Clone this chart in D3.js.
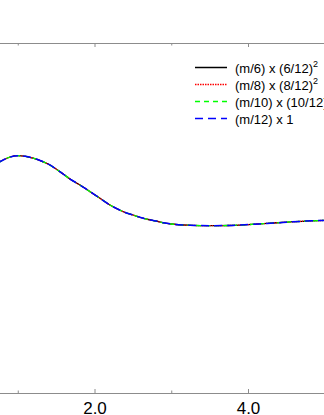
<!DOCTYPE html>
<html>
<head>
<meta charset="utf-8">
<script src="https://cdn.jsdelivr.net/npm/d3@7"></script>
<style>
  body { margin: 0; background: #fff; }
  svg { display: block; font-family: "Liberation Sans", Arial, sans-serif; }
</style>
</head>
<body>
<div class="chart_container"></div>
<script>
// curve (all four scalings lie on top of each other)
const xValues = [0.75, 0.9, 1.0, 1.1, 1.2, 1.3, 1.4, 1.5, 1.6, 1.7, 1.8, 1.9, 2.0, 2.1, 2.2, 2.3, 2.4, 2.5, 2.6, 2.7, 2.8, 2.9, 3.0, 3.25, 3.5, 3.75, 4.0, 4.25, 4.5, 4.75, 5.0];
const m6Values  = [2.305, 2.36, 2.373, 2.367, 2.348, 2.322, 2.288, 2.24, 2.185, 2.13, 2.085, 2.035, 1.984, 1.932, 1.88, 1.84, 1.805, 1.78, 1.755, 1.735, 1.72, 1.702, 1.69, 1.677, 1.673, 1.675, 1.684, 1.696, 1.708, 1.719, 1.726];
const m8Values  = [2.305, 2.36, 2.373, 2.367, 2.348, 2.322, 2.288, 2.24, 2.185, 2.13, 2.085, 2.035, 1.984, 1.932, 1.88, 1.84, 1.805, 1.78, 1.755, 1.735, 1.72, 1.702, 1.69, 1.677, 1.673, 1.675, 1.684, 1.696, 1.708, 1.719, 1.726];
const m10Values = [2.305, 2.36, 2.373, 2.367, 2.348, 2.322, 2.288, 2.24, 2.185, 2.13, 2.085, 2.035, 1.984, 1.932, 1.88, 1.84, 1.805, 1.78, 1.755, 1.735, 1.72, 1.702, 1.69, 1.677, 1.673, 1.675, 1.684, 1.696, 1.708, 1.719, 1.726];
const m12Values = [2.305, 2.36, 2.373, 2.367, 2.348, 2.322, 2.288, 2.24, 2.185, 2.13, 2.085, 2.035, 1.984, 1.932, 1.88, 1.84, 1.805, 1.78, 1.755, 1.735, 1.72, 1.702, 1.69, 1.677, 1.673, 1.675, 1.684, 1.696, 1.708, 1.719, 1.726];

const seriesNames = ["(m/6) x (6/12)", "(m/8) x (8/12)", "(m/10) x (10/12)", "(m/12) x 1"];
const seriesSup = ["2", "2", "2", ""];
const majorTicks = [2, 4];
const minorTicks = [0, 1, 3, 5];

const styles = [
  { color: "#000000", dash: null, width: 1.3 },
  { color: "#ff0000", dash: "1,1", width: 1.3 },
  { color: "#00ff00", dash: "5,4", width: 1.3 },
  { color: "#0000ff", dash: "8,5", width: 1.5 },
];

const W = 324, H = 415;
const plotTop = 43, plotBottom = 393;

function drawChart() {
  const container = document.querySelector('div.chart_container');
  container.innerHTML = `<svg id="svgCont" width=${W} height=${H}></svg>`;
  const svg = d3.select(container).select('#svgCont');

  // x axis runs past both sides of the window
  const x = d3.scaleLinear().domain([0, 5]).range([-59, 324.75]);
  const y = d3.scaleLinear().domain([0, 3.5]).range([plotBottom, plotTop]);

  const series = [m6Values, m8Values, m10Values, m12Values];

  const bAxis = svg.append('g').attr('transform', `translate(0,${plotBottom})`)
    .call(d3.axisBottom(x).tickValues(majorTicks).tickSize(-4).tickPadding(9)
      .tickFormat(d3.format('.1f')));
  svg.append('g').attr('transform', `translate(0,${plotBottom})`)
    .call(d3.axisBottom(x).tickValues(minorTicks).tickSize(-2.5).tickFormat(''));
  svg.append('g').attr('transform', `translate(0,${plotTop})`)
    .call(d3.axisTop(x).tickValues(majorTicks).tickSize(-4).tickFormat(''));
  svg.append('g').attr('transform', `translate(0,${plotTop})`)
    .call(d3.axisTop(x).tickValues(minorTicks).tickSize(-2.5).tickFormat(''));

  svg.selectAll('.domain').remove();
  svg.selectAll('.tick line').attr('stroke', '#8c8c8c');
  // frame lines
  svg.append('line').attr('x1', 0).attr('x2', W).attr('y1', plotTop + 0.5).attr('y2', plotTop + 0.5)
    .attr('stroke', '#8c8c8c');
  svg.append('line').attr('x1', 0).attr('x2', W).attr('y1', plotBottom + 0.5).attr('y2', plotBottom + 0.5)
    .attr('stroke', '#8c8c8c');
  bAxis.selectAll('text').attr('font-size', 17).attr('fill', '#000')
    .attr('font-family', '"Liberation Sans", Arial, sans-serif');

  const line = d3.line()
    .x((d, i) => x(xValues[i]))
    .y(d => y(d))
    .curve(d3.curveMonotoneX);

  svg.selectAll('path.curve')
    .data(series).enter().append('path')
    .attr('class', 'curve')
    .attr('d', d => line(d))
    .attr('fill', 'none')
    .attr('stroke', (d, i) => styles[i].color)
    .attr('stroke-width', (d, i) => styles[i].width)
    .attr('stroke-dasharray', (d, i) => styles[i].dash);

  // legend
  const legend = svg.append('g');
  const rows = legend.selectAll('g')
    .data(seriesNames).enter().append('g')
    .attr('transform', (d, i) => `translate(195,${67.5 + i * 17})`);
  rows.append('line')
    .attr('x1', 0).attr('x2', 32).attr('y1', 0).attr('y2', 0)
    .attr('stroke', (d, i) => styles[i].color)
    .attr('stroke-width', 1.5)
    .attr('stroke-dasharray', (d, i) => styles[i].dash === "1,1" ? "1.5,1" : styles[i].dash);
  const txt = rows.append('text')
    .attr('x', 40).attr('y', 5)
    .attr('font-size', 13)
    .text(d => d);
  txt.append('tspan')
    .attr('font-size', 9).attr('dy', -6)
    .text((d, i) => seriesSup[i]);
}

drawChart();
</script>
</body>
</html>
